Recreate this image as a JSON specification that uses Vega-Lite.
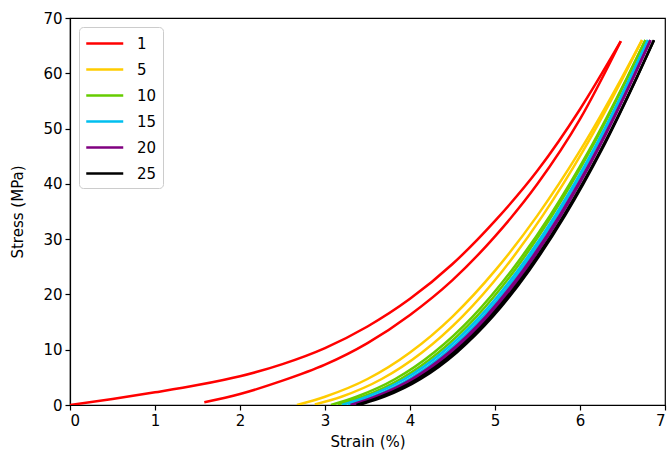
{
  "$schema": "https://vega.github.io/schema/vega-lite/v6.json",
  "width": 595,
  "height": 387,
  "autosize": "none",
  "padding": {"left": 70, "top": 18, "right": 5, "bottom": 53},
  "config": {
    "font": "DejaVu Sans",
    "view": {"stroke": "#000000", "strokeWidth": 1.2},
    "axis": {
      "grid": false,
      "domainColor": "#000000",
      "domainWidth": 1.2,
      "tickColor": "#000000",
      "tickWidth": 1.2,
      "tickSize": 5,
      "labelColor": "#000000",
      "titleColor": "#000000",
      "labelFont": "DejaVu Sans",
      "titleFont": "DejaVu Sans",
      "labelFontSize": 15,
      "titleFontSize": 15,
      "titleFontWeight": "normal",
      "labelPadding": 3
    }
  },
  "data": {
    "values": [
      {"c":"1","p":"L","s":0,"t":0},{"c":"1","p":"L","s":0.5,"t":1.1},{"c":"1","p":"L","s":1.0,"t":2.3},{"c":"1","p":"L","s":1.5,"t":3.6},{"c":"1","p":"L","s":2.0,"t":5.2},{"c":"1","p":"L","s":2.5,"t":7.4},{"c":"1","p":"L","s":3.0,"t":10.3},{"c":"1","p":"L","s":3.5,"t":14.2},{"c":"1","p":"L","s":4.0,"t":19.2},{"c":"1","p":"L","s":4.5,"t":25.5},{"c":"1","p":"L","s":5.0,"t":33.3},{"c":"1","p":"L","s":5.5,"t":42.4},{"c":"1","p":"L","s":6.0,"t":53.5},{"c":"1","p":"L","s":6.48,"t":65.8},
      {"c":"1","p":"U","s":1.58,"t":0.5},{"c":"1","p":"U","s":2.0,"t":2.0},{"c":"1","p":"U","s":2.5,"t":4.4},{"c":"1","p":"U","s":3.0,"t":7.3},{"c":"1","p":"U","s":3.5,"t":11.2},{"c":"1","p":"U","s":4.0,"t":16.3},{"c":"1","p":"U","s":4.5,"t":22.6},{"c":"1","p":"U","s":5.0,"t":30.5},{"c":"1","p":"U","s":5.5,"t":40.0},{"c":"1","p":"U","s":6.0,"t":51.7},{"c":"1","p":"U","s":6.48,"t":65.8},
      {"c":"5","p":"L","s":2.67,"t":0},{"c":"5","p":"L","s":3.0,"t":1.5},{"c":"5","p":"L","s":3.5,"t":4.7},{"c":"5","p":"L","s":4.0,"t":9.5},{"c":"5","p":"L","s":4.5,"t":16.0},{"c":"5","p":"L","s":5.0,"t":24.3},{"c":"5","p":"L","s":5.5,"t":34.3},{"c":"5","p":"L","s":6.0,"t":46.0},{"c":"5","p":"L","s":6.5,"t":59.4},{"c":"5","p":"L","s":6.73,"t":66},
      {"c":"5","p":"U","s":2.88,"t":0.1},{"c":"5","p":"U","s":3.193,"t":1.5},{"c":"5","p":"U","s":3.667,"t":4.7},{"c":"5","p":"U","s":4.141,"t":9.5},{"c":"5","p":"U","s":4.615,"t":16.0},{"c":"5","p":"U","s":5.09,"t":24.3},{"c":"5","p":"U","s":5.563,"t":34.3},{"c":"5","p":"U","s":6.038,"t":46.0},{"c":"5","p":"U","s":6.512,"t":59.4},{"c":"5","p":"U","s":6.73,"t":66},
      {"c":"10","p":"L","s":3.07,"t":0},{"c":"10","p":"L","s":3.371,"t":1.5},{"c":"10","p":"L","s":3.826,"t":4.7},{"c":"10","p":"L","s":4.282,"t":9.5},{"c":"10","p":"L","s":4.738,"t":16.0},{"c":"10","p":"L","s":5.193,"t":24.3},{"c":"10","p":"L","s":5.649,"t":34.3},{"c":"10","p":"L","s":6.105,"t":46.0},{"c":"10","p":"L","s":6.56,"t":59.4},{"c":"10","p":"L","s":6.77,"t":66},
      {"c":"10","p":"U","s":3.15,"t":0.1},{"c":"10","p":"U","s":3.444,"t":1.5},{"c":"10","p":"U","s":3.89,"t":4.7},{"c":"10","p":"U","s":4.336,"t":9.5},{"c":"10","p":"U","s":4.782,"t":16.0},{"c":"10","p":"U","s":5.228,"t":24.3},{"c":"10","p":"U","s":5.673,"t":34.3},{"c":"10","p":"U","s":6.119,"t":46.0},{"c":"10","p":"U","s":6.565,"t":59.4},{"c":"10","p":"U","s":6.77,"t":66},
      {"c":"15","p":"L","s":3.2,"t":0},{"c":"15","p":"L","s":3.493,"t":1.5},{"c":"15","p":"L","s":3.936,"t":4.7},{"c":"15","p":"L","s":4.379,"t":9.5},{"c":"15","p":"L","s":4.823,"t":16.0},{"c":"15","p":"L","s":5.266,"t":24.3},{"c":"15","p":"L","s":5.709,"t":34.3},{"c":"15","p":"L","s":6.153,"t":46.0},{"c":"15","p":"L","s":6.596,"t":59.4},{"c":"15","p":"L","s":6.8,"t":66},
      {"c":"15","p":"U","s":3.27,"t":0.1},{"c":"15","p":"U","s":3.557,"t":1.5},{"c":"15","p":"U","s":3.992,"t":4.7},{"c":"15","p":"U","s":4.426,"t":9.5},{"c":"15","p":"U","s":4.861,"t":16.0},{"c":"15","p":"U","s":5.296,"t":24.3},{"c":"15","p":"U","s":5.73,"t":34.3},{"c":"15","p":"U","s":6.165,"t":46.0},{"c":"15","p":"U","s":6.6,"t":59.4},{"c":"15","p":"U","s":6.8,"t":66},
      {"c":"20","p":"L","s":3.3,"t":0},{"c":"20","p":"L","s":3.587,"t":1.5},{"c":"20","p":"L","s":4.022,"t":4.7},{"c":"20","p":"L","s":4.456,"t":9.5},{"c":"20","p":"L","s":4.891,"t":16.0},{"c":"20","p":"L","s":5.326,"t":24.3},{"c":"20","p":"L","s":5.76,"t":34.3},{"c":"20","p":"L","s":6.195,"t":46.0},{"c":"20","p":"L","s":6.63,"t":59.4},{"c":"20","p":"L","s":6.83,"t":66},
      {"c":"20","p":"U","s":3.35,"t":0.1},{"c":"20","p":"U","s":3.633,"t":1.5},{"c":"20","p":"U","s":4.061,"t":4.7},{"c":"20","p":"U","s":4.49,"t":9.5},{"c":"20","p":"U","s":4.918,"t":16.0},{"c":"20","p":"U","s":5.347,"t":24.3},{"c":"20","p":"U","s":5.776,"t":34.3},{"c":"20","p":"U","s":6.204,"t":46.0},{"c":"20","p":"U","s":6.633,"t":59.4},{"c":"20","p":"U","s":6.83,"t":66},
      {"c":"25","p":"L","s":3.37,"t":0},{"c":"25","p":"L","s":3.655,"t":1.5},{"c":"25","p":"L","s":4.085,"t":4.7},{"c":"25","p":"L","s":4.517,"t":9.5},{"c":"25","p":"L","s":4.947,"t":16.0},{"c":"25","p":"L","s":5.379,"t":24.3},{"c":"25","p":"L","s":5.81,"t":34.3},{"c":"25","p":"L","s":6.241,"t":46.0},{"c":"25","p":"L","s":6.672,"t":59.4},{"c":"25","p":"L","s":6.87,"t":66},
      {"c":"25","p":"U","s":3.42,"t":0.1},{"c":"25","p":"U","s":3.7,"t":1.5},{"c":"25","p":"U","s":4.125,"t":4.7},{"c":"25","p":"U","s":4.55,"t":9.5},{"c":"25","p":"U","s":4.975,"t":16.0},{"c":"25","p":"U","s":5.4,"t":24.3},{"c":"25","p":"U","s":5.825,"t":34.3},{"c":"25","p":"U","s":6.25,"t":46.0},{"c":"25","p":"U","s":6.674,"t":59.4},{"c":"25","p":"U","s":6.87,"t":66}
    ]
  },
  "mark": {"type": "line", "interpolate": "monotone", "strokeWidth": 2.5, "clip": true},
  "encoding": {
    "x": {
      "field": "s", "type": "quantitative",
      "scale": {"domain": [0, 7], "nice": false, "zero": false},
      "axis": {"values": [0,1,2,3,4,5,6,7], "title": "Strain (%)", "titlePadding": 6}
    },
    "y": {
      "field": "t", "type": "quantitative",
      "scale": {"domain": [0, 70], "nice": false},
      "axis": {"values": [0,10,20,30,40,50,60,70], "title": "Stress (MPa)", "titlePadding": 17}
    },
    "color": {
      "field": "c", "type": "nominal",
      "scale": {"domain": ["1","5","10","15","20","25"], "range": ["#ff0000","#ffcc00","#66cc00","#00bfef","#800080","#000000"]},
      "legend": {
        "title": null,
        "orient": "none",
        "legendX": 9,
        "legendY": 9,
        "symbolType": "M-1,0H3",
        "symbolSize": 342,
        "symbolStrokeWidth": 2.5,
        "labelFontSize": 15,
        "labelFont": "DejaVu Sans",
        "labelColor": "#000000",
        "labelOffset": 31,
        "rowPadding": 7,
        "padding": 6,
        "strokeColor": "#cccccc",
        "fillColor": "#ffffff",
        "cornerRadius": 4
      }
    },
    "detail": {"field": "p"}
  }
}
